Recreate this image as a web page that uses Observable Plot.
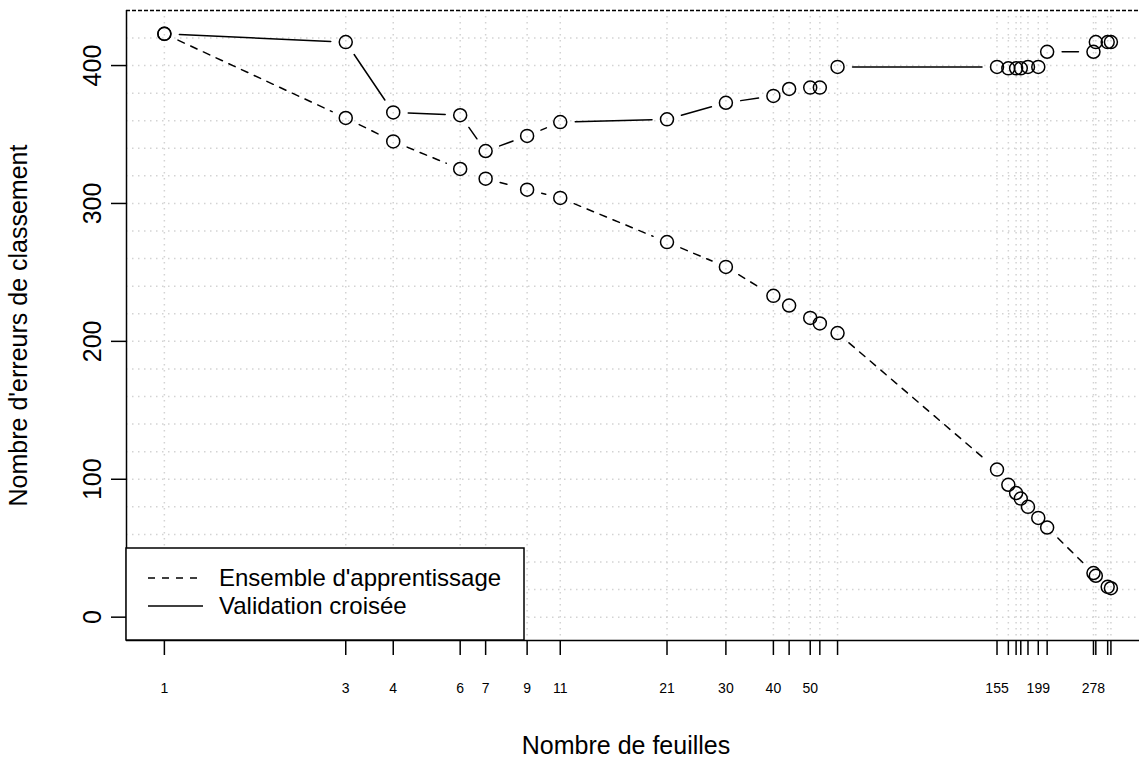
<!DOCTYPE html>
<html><head><meta charset="utf-8">
<script src="https://cdn.jsdelivr.net/npm/d3@7"></script>
<script src="https://cdn.jsdelivr.net/npm/@observablehq/plot@0.6"></script>
<style>body{margin:0;background:#fff;} svg{display:block;}</style>
</head><body><div id="chart"></div>
<script>
// ---- data ----
const leaves       = [1,3,4,6,7,9,11,21,30,40,44,50,53,59,155,166,174,179,187,199,210,278,282,303,309];
const trainErrors  = [423,362,345,325,318,310,304,272,254,233,226,217,213,206,107,96,90,86,80,72,65,32,30,22,21];
const cvErrors     = [423,417,366,364,338,349,359,361,373,378,383,384,384,399,399,398,398,398,399,399,410,410,417,417,417];
const xLabels      = [1,3,4,6,7,9,11,21,30,40,50,155,199,278];
const yTicks       = [0,100,200,300,400];
const gridYValues  = [0,20,40,60,80,100,120,140,160,180,200,220,240,260,280,300,320,340,360,380,400,420];
const seriesNames  = ["Ensemble d'apprentissage", "Validation croisée"];
const xTitle = "Nombre de feuilles";
const yTitle = "Nombre d'erreurs de classement";

// ---- layout ----
const W = 1139, H = 758;
const mL = 126, mT = 10, mB = 118;
const xDomain = [0.795, 388];
const yDomain = [-16.92, 439.92];
const FONT = "'Liberation Sans', Arial, Helvetica, sans-serif";

const segs = (ys) => leaves.slice(1).map((x, i) => ({x1: leaves[i], y1: ys[i], x2: x, y2: ys[i + 1]}));
const trainSegs = segs(trainErrors);
const cvSegs = segs(cvErrors);
const trainPts = leaves.map((x, i) => ({x, y: trainErrors[i]}));
const cvPts = leaves.map((x, i) => ({x, y: cvErrors[i]}));

const gridStyle = {stroke: "#d3d3d3", strokeWidth: 1.5, strokeDasharray: "1.5,4.5"};

const chart = Plot.plot({
  width: W, height: H,
  marginLeft: mL, marginTop: mT, marginBottom: mB, marginRight: 0,
  style: {fontFamily: FONT, fontSize: "25px", color: "#000", background: "#fff"},
  x: {type: "log", domain: xDomain, range: [mL, 1148]},
  y: {type: "linear", domain: yDomain, range: [H - mB, mT]},
  marks: [
    Plot.ruleY(gridYValues, gridStyle),
    Plot.ruleX(leaves, gridStyle),
    Plot.arrow(trainSegs, {x1: "x1", y1: "y1", x2: "x2", y2: "y2", insetStart: 15, insetEnd: 15, headLength: 0,
      stroke: "#000", strokeWidth: 1.5, strokeDasharray: "7,7"}),
    Plot.arrow(cvSegs, {x1: "x1", y1: "y1", x2: "x2", y2: "y2", insetStart: 15, insetEnd: 15, headLength: 0,
      stroke: "#000", strokeWidth: 1.5}),
    Plot.dot(trainPts, {x: "x", y: "y", r: 6.5, stroke: "#000", strokeWidth: 1.5, fill: "none"}),
    Plot.dot(cvPts, {x: "x", y: "y", r: 6.5, stroke: "#000", strokeWidth: 1.5, fill: "none"}),
    // box
    Plot.ruleY([yDomain[0]], {stroke: "#000", strokeWidth: 1.5}),
    Plot.ruleX([xDomain[0]], {stroke: "#000", strokeWidth: 1.5}),
    Plot.ruleY([yDomain[1]], {stroke: "#000", strokeWidth: 1.3, strokeDasharray: "4,2"}),
    // axes
    Plot.axisX(leaves, {tickSize: 15, label: null, tickFormat: () => "", stroke: "#000", strokeWidth: 1.5}),
    Plot.text(xLabels, {frameAnchor: "bottom", x: d => d, text: d => String(d), dy: 48,
      fontSize: 14, textAnchor: "middle", lineAnchor: "middle", fill: "#000"}),
    Plot.axisY(yTicks, {tickSize: 15, label: null, tickFormat: () => "", stroke: "#000", strokeWidth: 1.5}),
    Plot.text(yTicks, {frameAnchor: "left", y: d => d, text: d => String(d), rotate: -90, dx: -34,
      fontSize: 25, textAnchor: "middle", lineAnchor: "middle", fill: "#000"}),
    Plot.text([yTitle], {frameAnchor: "left", text: d => d, rotate: -90, dx: -108,
      fontSize: 25, textAnchor: "middle", lineAnchor: "middle", fill: "#000"}),
    Plot.text([xTitle], {frameAnchor: "bottom", text: d => d, dy: 105, dx: -7,
      fontSize: 25, textAnchor: "middle", lineAnchor: "middle", fill: "#000"})
  ]
});

// ---- legend (bottom-left, inside the plot region) ----
const svg = d3.select(chart);
const lg = svg.append("g").attr("font-family", FONT).attr("font-size", 24).attr("text-anchor", "start");
lg.append("rect").attr("x", mL).attr("y", 548).attr("width", 398).attr("height", H - mB - 548)
  .attr("fill", "#fff").attr("stroke", "#000").attr("stroke-width", 1.5);
const rows = [{name: seriesNames[0], dash: "7,7", y: 578}, {name: seriesNames[1], dash: null, y: 606}];
rows.forEach(r => {
  lg.append("line").attr("x1", 148).attr("x2", 203).attr("y1", r.y).attr("y2", r.y)
    .attr("stroke", "#000").attr("stroke-width", 1.5).attr("stroke-dasharray", r.dash);
  lg.append("text").attr("x", 219).attr("y", r.y).attr("dy", "0.35em").attr("text-anchor", "start")
    .attr("fill", "#000").text(r.name);
});

document.getElementById("chart").appendChild(chart);
</script>
</body></html>
